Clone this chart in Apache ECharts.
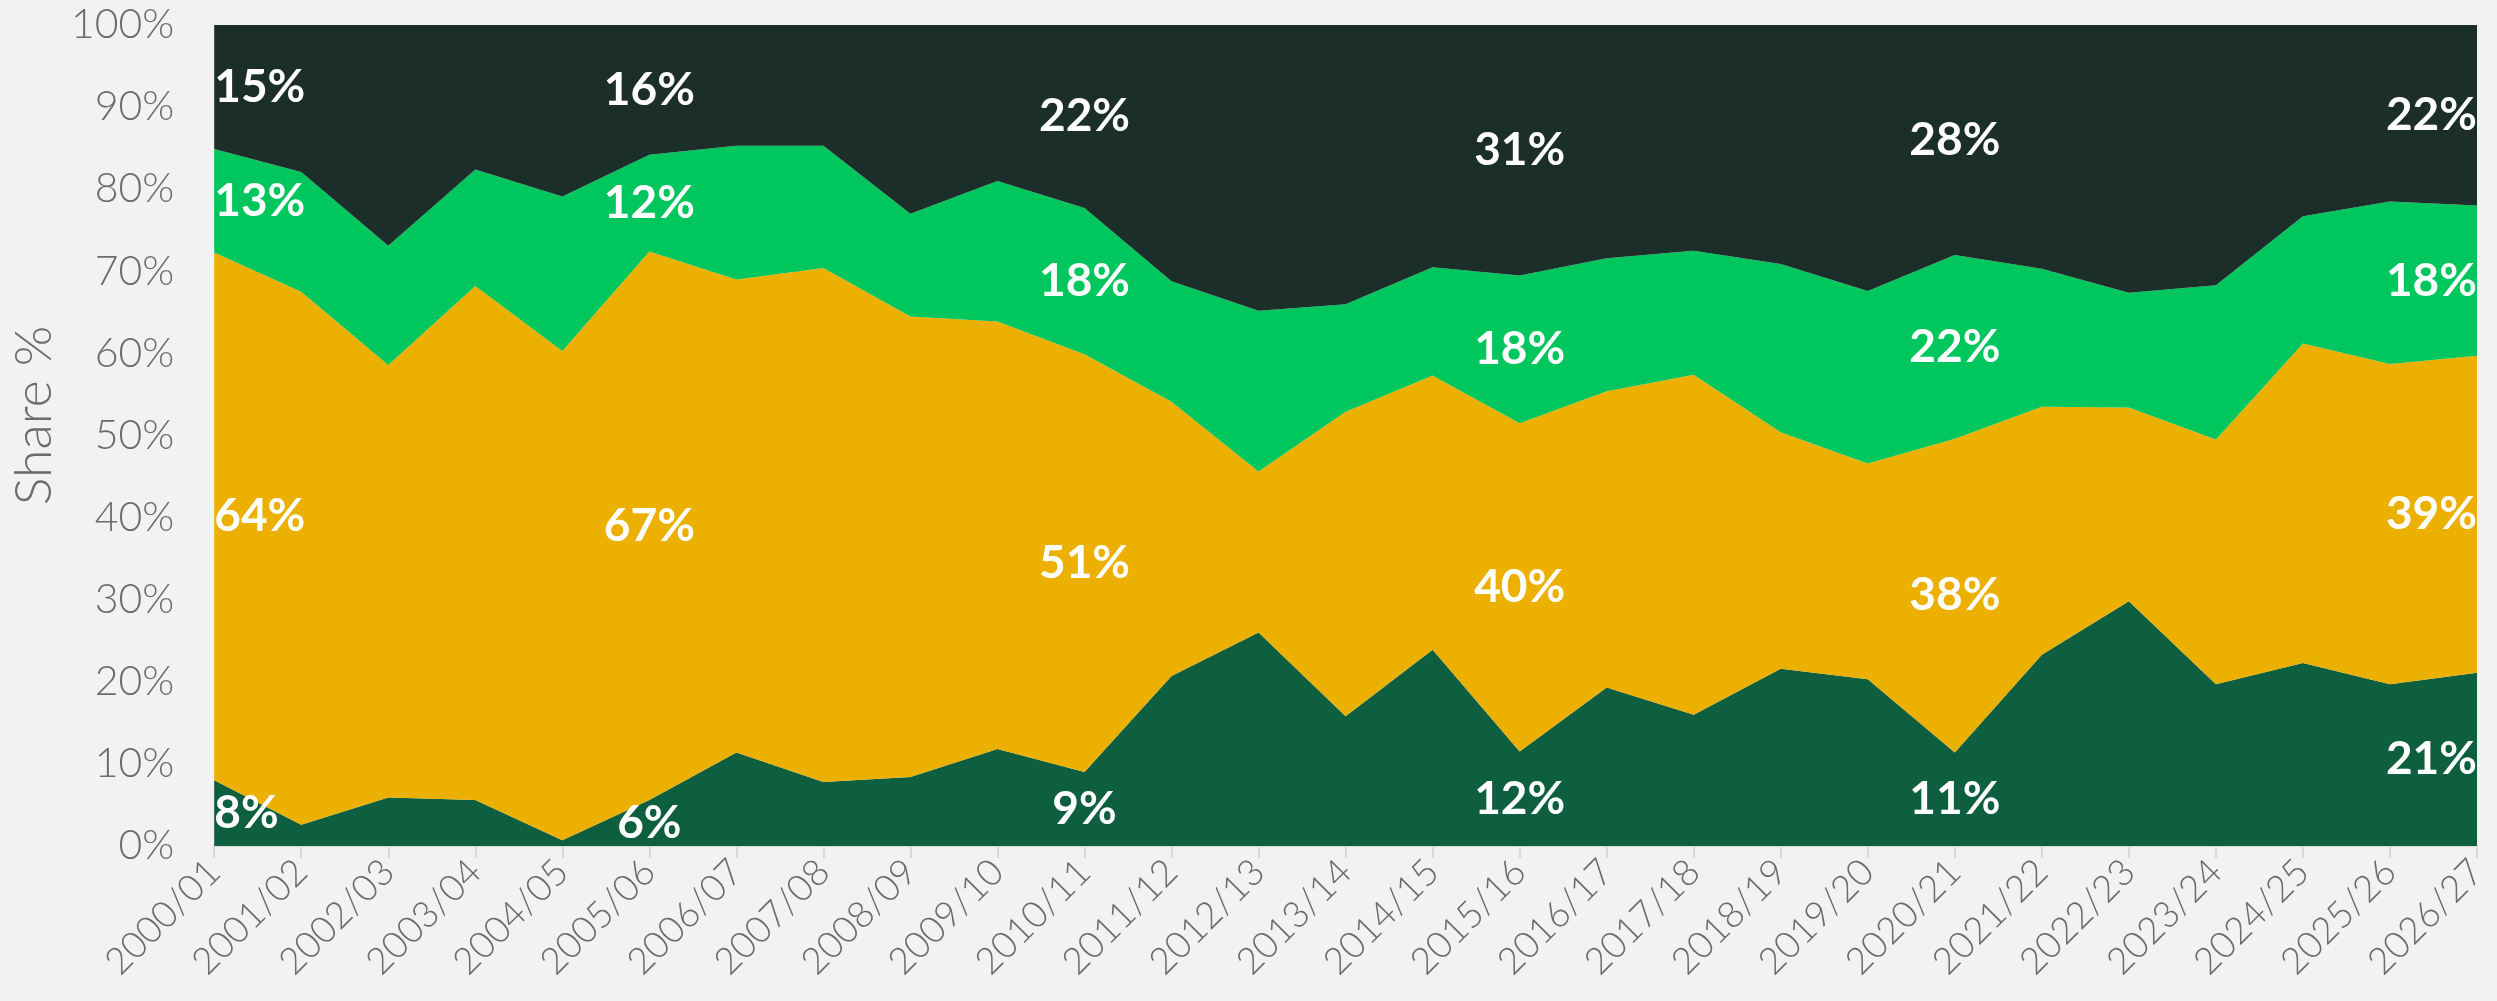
<!DOCTYPE html>
<html>
<head>
<meta charset="utf-8">
<script src="https://cdn.jsdelivr.net/npm/echarts@6/dist/echarts.min.js"></script>
<style>
  html, body { margin: 0; padding: 0; background: #f2f2f2; }
  #chart { width: 2497px; height: 1001px; }
</style>
</head>
<body>
<div id="chart"></div>
<script>
// seasons on the x axis
const seasons = ['2000/01', '2001/02', '2002/03', '2003/04', '2004/05', '2005/06', '2006/07',
    '2007/08', '2008/09', '2009/10', '2010/11', '2011/12', '2012/13', '2013/14', '2014/15',
    '2015/16', '2016/17', '2017/18', '2018/19', '2019/20', '2020/21', '2021/22', '2022/23',
    '2023/24', '2024/25', '2025/26', '2026/27'];

// shares in %, bottom to top of the stack
const shareA = [8.0, 2.6, 5.9, 5.6, 0.7, 5.6, 11.4, 7.8, 8.4, 11.8, 9.0, 20.7, 26.0, 15.8,
    23.9, 11.5, 19.3, 16.0, 21.6, 20.3, 11.4, 23.3, 29.8, 19.7, 22.3, 19.7, 21.1];
const shareB = [64.3, 64.9, 52.7, 62.6, 59.6, 66.8, 57.6, 62.6, 56.1, 52.1, 50.9, 33.4, 19.6, 37.1,
    33.4, 40.0, 36.1, 41.4, 28.8, 26.3, 38.2, 30.2, 23.6, 29.8, 38.9, 39.0, 38.6];
const shareC = [12.6, 14.6, 14.5, 14.2, 18.8, 11.8, 16.3, 14.9, 12.5, 17.1, 17.8, 14.7, 19.6, 13.1,
    13.2, 18.0, 16.2, 15.1, 20.5, 21.0, 22.4, 16.8, 14.0, 18.8, 15.5, 19.8, 18.3];
const shareD = [15.1, 17.9, 26.9, 17.6, 20.9, 15.8, 14.7, 14.7, 23.0, 19.0, 22.3, 31.2, 34.8, 34.0,
    29.5, 30.5, 28.4, 27.5, 29.1, 32.4, 28.0, 29.7, 32.6, 31.7, 23.3, 21.5, 22.0];

// seasons that carry value labels
const labelAt = [0, 5, 10, 15, 20, 26];

const yTicks = [0, 10, 20, 30, 40, 50, 60, 70, 80, 90, 100];

const layers = [
    { name: 'A', data: shareA, color: '#0e5e40' },
    { name: 'B', data: shareB, color: '#ecb100' },
    { name: 'C', data: shareC, color: '#00c65e' },
    { name: 'D', data: shareD, color: '#1b2e2a' },
];

const axisGrey = '#6e6a6a';

// label points sit in the middle of each band
const labelPoints = [];
labelAt.forEach(i => {
    let base = 0;
    layers.forEach(l => {
        const v = l.data[i];
        let align = 'center';
        if (i === 0) align = 'left';
        if (i === seasons.length - 1) align = 'right';
        labelPoints.push({
            value: [i, base + v / 2, Math.round(v)],
            label: { align: align },
        });
        base += v;
    });
});

const chart = echarts.init(document.getElementById('chart'));

const series = layers.map(l => ({
    name: l.name,
    type: 'line',
    stack: 'share',
    data: l.data,
    symbol: 'none',
    lineStyle: { width: 0 },
    areaStyle: { color: l.color, opacity: 1 },
    itemStyle: { color: l.color },
    emphasis: { disabled: true },
}));

series.push({
    type: 'scatter',
    data: labelPoints,
    symbolSize: 0,
    z: 10,
    silent: true,
    itemStyle: { opacity: 1, color: '#ffffff' },
    label: {
        show: true,
        position: 'inside',
        formatter: p => p.value[2] + '%',
        color: '#ffffff',
        opacity: 1,
        textBorderWidth: 0,
        fontFamily: 'Lato',
        fontWeight: 'bold',
        fontSize: 46,
    },
});

chart.setOption({
    backgroundColor: '#f2f2f2',
    animation: false,
    grid: { left: 209, right: 20, top: 25, bottom: 155 },
    xAxis: {
        type: 'category',
        data: seasons,
        boundaryGap: false,
        axisLine: { lineStyle: { color: '#d9d9d9', width: 2 } },
        axisTick: { alignWithLabel: true, length: 12, lineStyle: { color: '#d9d9d9', width: 2 } },
        axisLabel: {
            rotate: 45,
            interval: 0,
            margin: 20,
            padding: [24, 0, 0, 0],
            color: axisGrey,
            fontFamily: 'Lato',
            fontWeight: 300,
            fontSize: 37,
        },
    },
    yAxis: {
        type: 'value',
        min: yTicks[0],
        max: yTicks[yTicks.length - 1],
        interval: 10,
        name: 'Share %',
        nameLocation: 'middle',
        nameGap: 152,
        nameTextStyle: {
            color: axisGrey, fontFamily: 'Lato', fontWeight: 300, fontSize: 52,
            padding: [0, 0, 0, 40],
        },
        axisLine: { show: false },
        axisTick: { show: false },
        axisLabel: {
            margin: 40,
            color: axisGrey,
            fontFamily: 'Lato',
            fontWeight: 300,
            fontSize: 41,
            formatter: '{value}%',
        },
        splitLine: { lineStyle: { color: '#b5b5b5', width: 1 } },
    },
    series: series,
});
</script>
</body>
</html>
